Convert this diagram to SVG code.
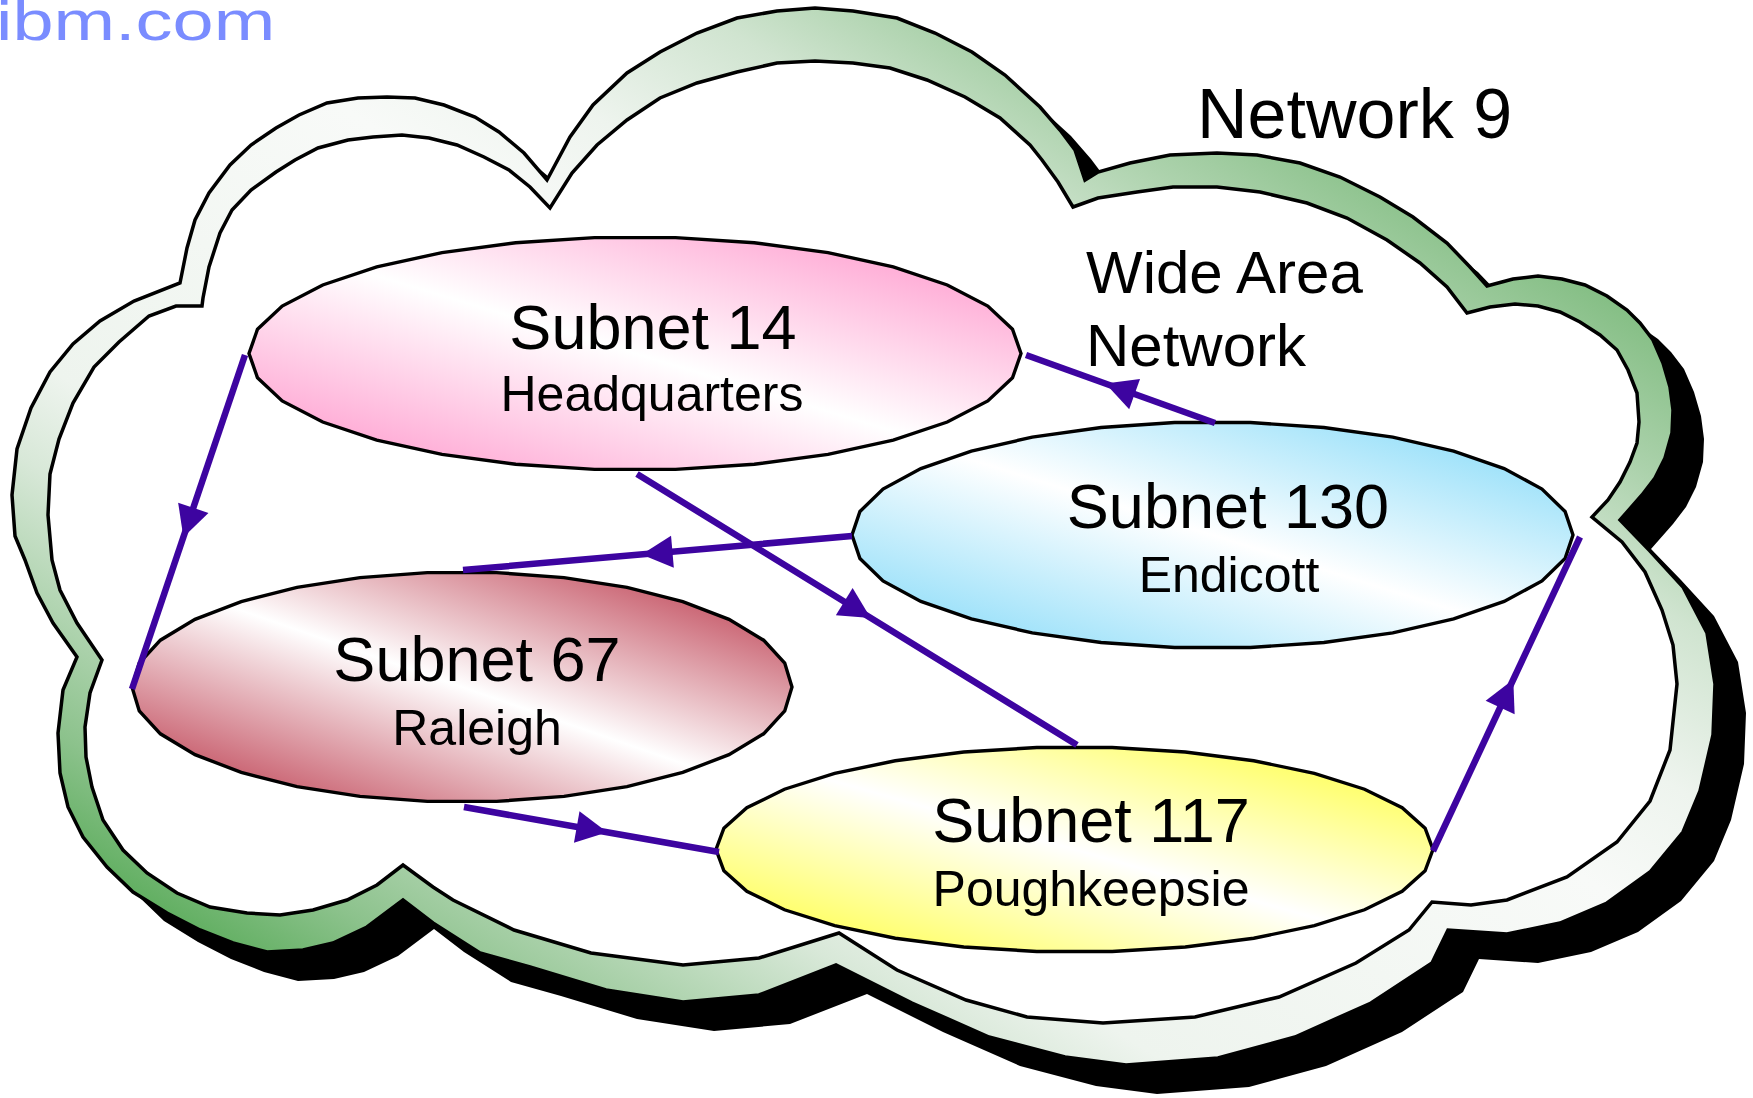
<svg xmlns="http://www.w3.org/2000/svg" xmlns:xlink="http://www.w3.org/1999/xlink" width="1753" height="1098" viewBox="0 0 1753 1098">
  <style>
    .lbl { font-family: "Liberation Sans", Arial, sans-serif; fill: #000; }
    .big { font-size: 63px; text-anchor: middle; }
    .small { font-size: 50px; text-anchor: middle; }
    .edge { stroke: #3d04a0; stroke-width: 6.5; fill: none; marker-mid: url(#arrow); }
    .cloud-line { stroke: #000; stroke-width: 3.5; stroke-linejoin: miter; }
  </style>
  <defs>
    <!-- faceted ellipse, unit size -->
    <path id="lens" vector-effect="non-scaling-stroke" stroke="#000" stroke-width="3.4"
      d="M1,0 L0.978,0.208 L0.914,0.407 L0.809,0.588 L0.669,0.743 L0.5,0.866 L0.309,0.951 L0.105,0.995 L-0.105,0.995 L-0.309,0.951 L-0.5,0.866 L-0.669,0.743 L-0.809,0.588 L-0.914,0.407 L-0.978,0.208 L-1,0 L-0.978,-0.208 L-0.914,-0.407 L-0.809,-0.588 L-0.669,-0.743 L-0.5,-0.866 L-0.309,-0.951 L-0.105,-0.995 L0.105,-0.995 L0.309,-0.951 L0.5,-0.866 L0.669,-0.743 L0.809,-0.588 L0.914,-0.407 L0.978,-0.208 Z"/>
    <linearGradient id="gPink" x1="0" y1="1" x2="1" y2="0">
      <stop offset="0" stop-color="#ffa8d4"/>
      <stop offset="0.15" stop-color="#ffb0d8"/>
      <stop offset="0.5" stop-color="#ffffff"/>
      <stop offset="0.85" stop-color="#ffb0d8"/>
      <stop offset="1" stop-color="#ffa8d4"/>
    </linearGradient>
    <linearGradient id="gBlue" x1="0" y1="1" x2="1" y2="0">
      <stop offset="0" stop-color="#98dffa"/>
      <stop offset="0.15" stop-color="#a2e3fa"/>
      <stop offset="0.5" stop-color="#ffffff"/>
      <stop offset="0.85" stop-color="#a2e3fa"/>
      <stop offset="1" stop-color="#98dffa"/>
    </linearGradient>
    <linearGradient id="gRed" x1="0" y1="1" x2="1" y2="0">
      <stop offset="0" stop-color="#c45a6a"/>
      <stop offset="0.15" stop-color="#cc6a78"/>
      <stop offset="0.5" stop-color="#ffffff"/>
      <stop offset="0.85" stop-color="#cc6a78"/>
      <stop offset="1" stop-color="#c45a6a"/>
    </linearGradient>
    <linearGradient id="gYellow" x1="0" y1="1" x2="1" y2="0">
      <stop offset="0" stop-color="#ffff60"/>
      <stop offset="0.15" stop-color="#ffff70"/>
      <stop offset="0.5" stop-color="#ffffff"/>
      <stop offset="0.85" stop-color="#ffff70"/>
      <stop offset="1" stop-color="#ffff60"/>
    </linearGradient>
    <linearGradient id="gBand" x1="0" y1="1" x2="1" y2="0">
      <stop offset="0" stop-color="#4ea64e"/>
      <stop offset="0.10" stop-color="#5aac5a"/>
      <stop offset="0.12" stop-color="#64b064"/>
      <stop offset="0.17" stop-color="#8cc28c"/>
      <stop offset="0.24" stop-color="#b8d8b8"/>
      <stop offset="0.29" stop-color="#d8e8d8"/>
      <stop offset="0.34" stop-color="#eef4ee"/>
      <stop offset="0.55" stop-color="#f8faf8"/>
      <stop offset="0.62" stop-color="#eef4ee"/>
      <stop offset="0.70" stop-color="#d0e4d0"/>
      <stop offset="0.76" stop-color="#acd2ac"/>
      <stop offset="0.83" stop-color="#86bf86"/>
      <stop offset="1" stop-color="#70b470"/>
    </linearGradient>
    <marker id="arrow" markerUnits="userSpaceOnUse" viewBox="-20 -20 40 40" refX="0" refY="0" markerWidth="40" markerHeight="40" orient="auto">
      <path d="M-15,-16 L16,0 L-15,16 Z" fill="#3d04a0"/>
    </marker>
    <!-- outer outline of the cloud -->
    <path id="cloudOuter" d="M180,283 L187,248 L195,220 L209,193 L230,165 L251,145 L276,128 L299,115 L327,103 L358,98 L387,97 L415,98 L444,105 L475,117 L499,132 L524,153 L547,180
      L570,137 L593,105 L627,73 L660,52 L697,33 L737,18 L777,11 L815,8 L853,11 L897,18 L935,33 L972,52 L1005,75 L1040,107 L1060,130 L1075,150 L1085,180
      L1098,172 L1130,163 L1170,155 L1217,153 L1257,155 L1300,163 L1340,177 L1380,197 L1413,217 L1447,243 L1470,267 L1487,286
      L1513,279 L1538,276 L1562,279 L1585,285 L1607,296 L1627,310 L1640,323 L1653,340 L1663,363 L1670,387 L1673,410 L1672,433 L1665,458 L1655,478 L1642,495 L1620,520
      L1650,551 L1683,587 L1707,633 L1715,684 L1713,735 L1700,791 L1683,832 L1650,872 L1607,903 L1560,923 L1507,934 L1448,930
      L1432,963 L1371,1003 L1295,1037 L1218,1058 L1126,1065 L1065,1057 L989,1037 L912,1003 L836,965
      L759,995 L683,1002 L606,990 L530,967 L480,953 L433,923 L403,900
      L367,927 L333,943 L303,950 L267,952 L233,943 L200,930 L167,913 L133,892 L107,867 L83,837 L68,807 L60,773 L58,733 L63,690 L77,657
      L53,623 L37,593 L25,560 L15,536 L12,495 L17,449 L31,408 L50,372 L73,344 L100,321 L134,301 Z"/>
  </defs>

  <!-- watermark -->
  <text class="lbl" transform="translate(-4,40) scale(1.32,1)" font-size="56" style="fill:#7a8cff">ibm.com</text>

  <!-- wide area network cloud -->
  <g id="network9">
    <use xlink:href="#cloudOuter" href="#cloudOuter" transform="translate(31,29)" fill="#000"/>
    <use xlink:href="#cloudOuter" href="#cloudOuter" fill="url(#gBand)" class="cloud-line"/>
    <path class="cloud-line" fill="#fff" d="M202,306 L203,298 L209,267 L220,233 L232,210 L251,190 L276,172 L295,160 L318,148 L348,140 L373,137 L402,135 L429,138 L457,145 L484,157 L509,170 L530,187 L550,208
      L572,173 L597,145 L627,120 L660,98 L697,83 L737,72 L777,63 L815,61 L853,63 L890,68 L927,80 L965,97 L1000,118 L1030,145 L1042,160 L1058,182 L1073,207
      L1098,198 L1137,192 L1173,187 L1217,187 L1260,192 L1307,203 L1347,218 L1387,240 L1420,263 L1447,287 L1467,313
      L1490,307 L1515,304 L1538,306 L1560,312 L1580,322 L1600,335 L1617,350 L1628,370 L1637,393 L1639,422 L1637,443 L1630,462 L1620,482 L1608,500 L1592,517
      L1622,542 L1645,572 L1662,610 L1673,645 L1677,684 L1670,750 L1650,801 L1617,842 L1567,877 L1507,900 L1471,905 L1432,902
      L1409,930 L1356,963 L1279,997 L1195,1017 L1103,1023 L1027,1017 L966,1000 L897,970 L839,933
      L759,958 L683,965 L591,953 L514,930 L453,900 L433,887 L403,865
      L377,885 L347,900 L313,910 L280,915 L247,913 L210,907 L177,893 L147,873 L123,850 L103,820 L92,787 L86,757 L85,727 L90,693 L102,660
      L77,623 L60,590 L52,560 L48,515 L50,474 L59,439 L73,403 L94,367 L119,342 L149,316 L176,306 Z"/>
    <text class="lbl" x="1197" y="138" font-size="70">Network 9</text>
    <text class="lbl" x="1086" y="293" font-size="60">Wide Area</text>
    <text class="lbl" x="1086" y="366" font-size="60">Network</text>
  </g>

  <!-- subnets -->
  <g id="subnet14">
    <use xlink:href="#lens" href="#lens" transform="translate(635,353.5) scale(386,116.5)" fill="url(#gPink)"/>
    <text class="lbl big" x="653" y="349">Subnet 14</text>
    <text class="lbl small" x="652" y="411">Headquarters</text>
  </g>
  <g id="subnet130">
    <use xlink:href="#lens" href="#lens" transform="translate(1212.5,535) scale(360.5,113)" fill="url(#gBlue)"/>
    <text class="lbl big" x="1228" y="528">Subnet 130</text>
    <text class="lbl small" x="1229" y="592">Endicott</text>
  </g>
  <g id="subnet67">
    <use xlink:href="#lens" href="#lens" transform="translate(462,687) scale(330,115)" fill="url(#gRed)"/>
    <text class="lbl big" x="477" y="681">Subnet 67</text>
    <text class="lbl small" x="477" y="745">Raleigh</text>
  </g>
  <g id="subnet117">
    <use xlink:href="#lens" href="#lens" transform="translate(1074.5,849.5) scale(358.5,102.5)" fill="url(#gYellow)"/>
    <text class="lbl big" x="1091" y="842">Subnet 117</text>
    <text class="lbl small" x="1091" y="906">Poughkeepsie</text>
  </g>

  <!-- links between subnets, arrowhead at the middle of each -->
  <g id="connectors">
    <path class="edge" d="M245,355 L188.5,522 L132,689"/>
    <path class="edge" d="M852,536 L657.5,553 L463,570"/>
    <path class="edge" d="M637,474 L857,609.5 L1077,745"/>
    <path class="edge" d="M1215,423 L1120.5,389 L1026,355"/>
    <path class="edge" d="M464,807 L591.5,829.5 L719,852"/>
    <path class="edge" d="M1433,851 L1506.5,694 L1580,537"/>
  </g>
</svg>
